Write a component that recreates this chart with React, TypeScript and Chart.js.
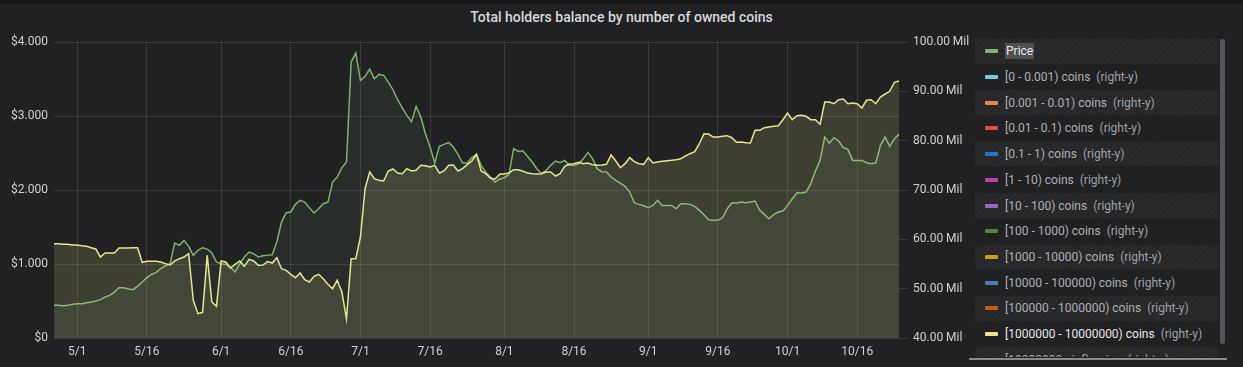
import React, { useEffect, useRef } from "react";
import { Chart, registerables } from "chart.js";

Chart.register(...registerables);

// ---- data ----
const startDate = [2019, 3, 26]; // April 26 (first daily point)

const price = [
  441, 441, 437, 441, 455, 464, 464, 477, 486, 500,
  518, 554, 576, 621, 680, 680, 662, 653, 698, 757,
  815, 860, 887, 937, 977, 1004, 1283, 1252, 1319, 1238,
  1117, 1185, 1220, 1202, 1148, 1027, 1004, 995, 959, 892,
  1004, 1094, 1162, 1139, 1094, 1110, 1120, 1126, 1297, 1567,
  1693, 1702, 1806, 1860, 1837, 1761, 1689, 1747, 1815, 1837,
  2108, 2175, 2301, 2378, 3729, 3850, 3481, 3535, 3634, 3503,
  3562, 3549, 3459, 3355, 3220, 3112, 3008, 2923, 3130, 2986,
  2760, 2580, 2364, 2590, 2617, 2643, 2580, 2482, 2364, 2364,
  2440, 2482, 2333, 2238, 2175, 2108, 2148, 2166, 2211, 2558,
  2522, 2531, 2454, 2378, 2288, 2220, 2265, 2333, 2391, 2369,
  2400, 2333, 2333, 2355, 2423, 2508, 2423, 2288, 2247, 2243,
  2175, 2130, 2094, 2049, 1972, 1828, 1806, 1788, 1761, 1792,
  1860, 1792, 1792, 1792, 1747, 1815, 1815, 1806, 1779, 1725,
  1666, 1598, 1590, 1590, 1625, 1747, 1828, 1824, 1837, 1828,
  1837, 1851, 1725, 1671, 1612, 1666, 1702, 1716, 1792, 1878,
  1963, 1959, 1972, 2085, 2256, 2400, 2716, 2634, 2706, 2661,
  2571, 2549, 2400, 2400, 2400, 2369, 2355, 2364, 2603, 2716,
  2590, 2693, 2752,
];

const holders = [
  59.12, 59.12, 58.99, 58.99, 58.85, 58.85, 58.71, 58.58, 58.31, 58.04,
  56.42, 57.23, 57.23, 57.23, 58.24, 58.24, 58.24, 58.31, 58.31, 55.34,
  55.54, 55.54, 55.54, 55.41, 55.07, 54.8, 55.61, 56.08, 56.42, 57.09,
  47.64, 44.94, 45.21, 56.76, 47.3, 46.42, 55.61, 55.41, 54.19, 54.93,
  55.61, 54.53, 55.95, 55.61, 54.73, 54.8, 55.5, 55.2, 56.28, 54.05,
  53.72, 52.91, 52.23, 53.18, 51.82, 51.35, 52.5, 52.91, 52.03, 50.88,
  49.99, 51.69, 49.32, 43.92, 56.08, 56.08, 60.47, 70.27, 73.65, 72.3,
  71.96, 71.82, 73.85, 74.26, 73.45, 73.31, 74.32, 73.85, 73.99, 75.0,
  74.93, 74.66, 75.0, 73.45, 73.85, 75.0, 75.07, 73.85, 74.32, 75.13,
  75.88, 77.24, 73.85, 73.31, 72.37, 72.23, 73.18, 73.31, 73.45, 74.12,
  74.12, 73.79, 73.45, 73.31, 73.24, 73.31, 73.65, 73.65, 72.84, 73.31,
  74.8, 75.27, 75.34, 75.61, 75.34, 75.47, 75.13, 75.0, 75.07, 75.2,
  77.09, 75.88, 74.52, 75.34, 76.55, 75.74, 75.34, 75.2, 76.55, 75.47,
  75.68, 75.82, 75.94, 76.01, 76.14, 76.35, 76.9, 77.36, 77.76, 79.38,
  81.41, 81.35, 80.74, 80.74, 80.88, 81.01, 80.6, 79.67, 79.73, 79.59,
  79.53, 82.1, 82.1, 82.63, 82.77, 82.91, 83.03, 84.25, 85.61, 84.25,
  85.06, 85.14, 84.94, 84.25, 84.25, 83.32, 87.84, 87.84, 87.49, 88.3,
  88.45, 87.49, 87.63, 87.49, 86.62, 88.18, 88.3, 87.49, 88.85, 89.46,
  90.0, 91.83, 92.09,
];

const xTickLabels = ["5/1", "5/16", "6/1", "6/16", "7/1", "7/16", "8/1", "8/16", "9/1", "9/16", "10/1", "10/16"];

const legendNames = [
  "Price",
  "[0 - 0.001) coins",
  "[0.001 - 0.01) coins",
  "[0.01 - 0.1) coins",
  "[0.1 - 1) coins",
  "[1 - 10) coins",
  "[10 - 100) coins",
  "[100 - 1000) coins",
  "[1000 - 10000) coins",
  "[10000 - 100000) coins",
  "[100000 - 1000000) coins",
  "[1000000 - 10000000) coins",
  "[10000000 - inf) coins",
];
const legendColors = [
  "#7EB26D", "#6ED0E0", "#EF843C", "#E24D42", "#1F78C1", "#BA43A9",
  "#8F6DC2", "#508642", "#CCA300", "#447EBC", "#C15C17", "#E6E68C", "#8AB8FF",
];

const dayLabels = price.map((_, i) => {
  const dt = new Date(startDate[0], startDate[1], startDate[2] + i);
  return `${dt.getMonth() + 1}/${dt.getDate()}`;
});

const GRID = "rgba(255,255,255,0.11)";
const TEXT = "#d0d1d3";
const FONT = "Roboto, 'Helvetica Neue', Arial, sans-serif";

export default function App() {
  const ref = useRef<HTMLCanvasElement>(null);

  useEffect(() => {
    document.body.style.margin = "0";
    document.body.style.background = "#161719";
    Chart.defaults.font.family = FONT;
    const chart = new Chart(ref.current as HTMLCanvasElement, {
      type: "line",
      data: {
        labels: dayLabels,
        datasets: [
          {
            label: legendNames[0],
            data: price,
            yAxisID: "y",
            borderColor: legendColors[0],
            backgroundColor: "rgba(126,178,109,0.08)",
            fill: "start",
            borderWidth: 1.5,
            pointRadius: 0,
            tension: 0,
            order: 1,
          },
          {
            label: legendNames[11],
            data: holders,
            yAxisID: "y1",
            borderColor: legendColors[11],
            backgroundColor: "rgba(230,230,140,0.15)",
            fill: "start",
            borderWidth: 1.5,
            pointRadius: 0,
            tension: 0,
            order: 0,
          },
        ],
      },
      options: {
        responsive: false,
        animation: false,
        layout: { padding: { top: 42, left: 0, right: 0, bottom: 0 } },
        plugins: { legend: { display: false }, tooltip: { enabled: false }, title: { display: false } },
        scales: {
          x: {
            type: "category",
            offset: false,
            grid: { color: GRID, drawTicks: false },
            border: { display: false },
            ticks: {
              autoSkip: false,
              maxRotation: 0,
              minRotation: 0,
              padding: 7,
              color: TEXT,
              font: { size: 12 },
              callback: (_v: any, i: number) => {
                const l = dayLabels[i];
                return xTickLabels.includes(l) ? l : null;
              },
            },
            afterFit: (s: any) => {
              s.height = 29;
            },
          },
          y: {
            position: "left",
            min: 0,
            max: 4000,
            grid: { color: GRID, drawTicks: false },
            border: { display: false },
            ticks: {
              stepSize: 1000,
              padding: 6,
              color: TEXT,
              font: { size: 12 },
              callback: (v: any) => (v === 0 ? "$0" : "$" + (v / 1000).toFixed(3)),
            },
            afterFit: (s: any) => {
              s.width = 54;
            },
          },
          y1: {
            position: "right",
            min: 40,
            max: 100,
            grid: { drawOnChartArea: false, color: GRID, tickLength: 9 },
            border: { display: false },
            ticks: {
              stepSize: 10,
              padding: 5,
              color: TEXT,
              font: { size: 12 },
              callback: (v: any) => Number(v).toFixed(2) + " Mil",
            },
            afterFit: (s: any) => {
              s.width = 76;
            },
          },
        },
      },
    });
    return () => chart.destroy();
  }, []);

  const rowH = 25.7;

  return (
    <div style={{ position: "relative", width: 1243, height: 367, background: "#161719", overflow: "hidden", fontFamily: FONT }}>
      <div style={{ position: "absolute", left: 0, top: 4, width: 1243, height: 363, background: "#212124" }} />
      <div
        style={{
          position: "absolute",
          left: 0,
          top: 4,
          width: 1243,
          height: 26,
          lineHeight: "26px",
          textAlign: "center",
          color: "#d8d9da",
          fontSize: 14,
          fontWeight: 500,
        }}
      >
        Total holders balance by number of owned coins
      </div>
      <canvas ref={ref} width={975} height={367} style={{ position: "absolute", left: 0, top: 0, width: 975, height: 367 }} />
      <div style={{ position: "absolute", left: 975, top: 39, width: 244, height: 318, overflow: "hidden" }}>
        {legendNames.map((name, i) => {
          const isPrice = i === 0;
          const bright = i === 0 || i === 11;
          return (
            <div
              key={name}
              style={{
                position: "absolute",
                left: 0,
                top: i * rowH,
                width: 244,
                height: rowH - 1,
                display: "flex",
                alignItems: "center",
                background:
                  i % 2 === 0
                    ? "repeating-linear-gradient(135deg, rgba(255,255,255,0.025) 0px, rgba(255,255,255,0.025) 2px, rgba(0,0,0,0) 2px, rgba(0,0,0,0) 4px), #262629"
                    : "transparent",
                fontSize: 12,
                whiteSpace: "nowrap",
              }}
            >
              <div style={{ marginLeft: 10, width: 13, height: 4, borderRadius: 1, background: legendColors[i] }} />
              <span
                style={{
                  marginLeft: 7,
                  color: bright ? "#e9e9ea" : "#aeb0b3",
                  background: isPrice ? "rgba(120,120,120,0.5)" : "transparent",
                  padding: isPrice ? "1px 1px" : 0,
                }}
              >
                {name}
              </span>
              {!isPrice && <span style={{ marginLeft: 6, color: "#9fa1a4" }}>(right-y)</span>}
            </div>
          );
        })}
      </div>
      <div style={{ position: "absolute", left: 1220, top: 39, width: 5, height: 305, borderRadius: 3, background: "#55555b" }} />
      <div style={{ position: "absolute", left: 969, top: 358, width: 258, height: 2, background: "#8a8a8e" }} />
    </div>
  );
}
